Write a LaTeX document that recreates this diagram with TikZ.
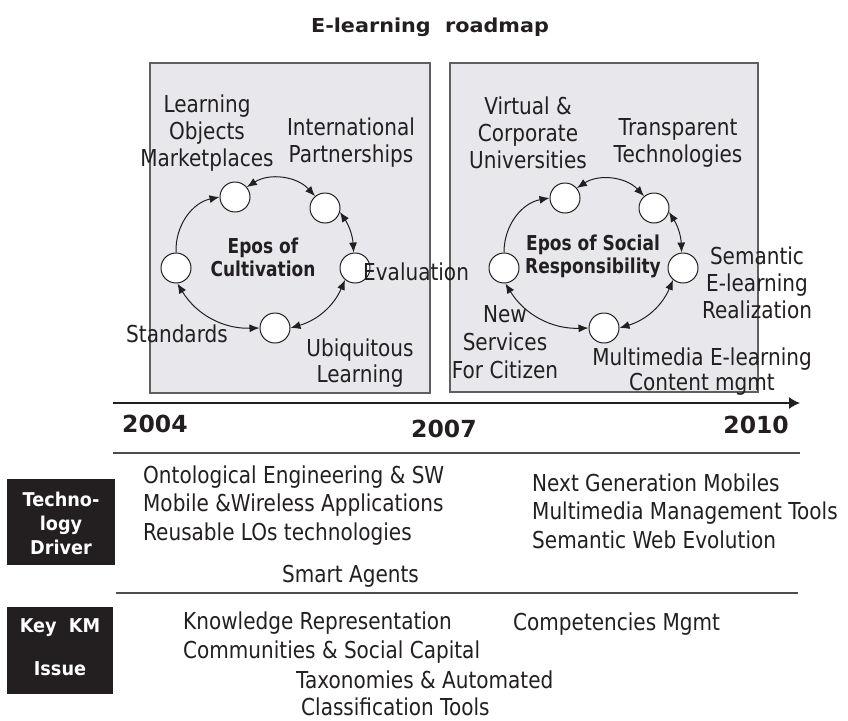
\documentclass[tikz,border=0pt]{standalone}
\usepackage{fontspec}
\usetikzlibrary{arrows.meta}
\newfontfamily\regf[FakeStretch=0.86]{DejaVu Sans}
\newfontfamily\eposf[FakeStretch=0.83]{DejaVu Sans}
\newfontfamily\boxf[FakeStretch=0.93]{DejaVu Sans}
\newfontfamily\titf[FakeStretch=1.08]{DejaVu Sans}
\newfontfamily\yearf{DejaVu Sans}
\definecolor{boxfill}{RGB}{232,232,236}
\definecolor{boxdraw}{RGB}{95,95,95}
\definecolor{ink}{RGB}{35,31,32}
\begin{document}
\begin{tikzpicture}[x=1pt,y=-1pt,
  panel/.style={draw=boxdraw,line width=1.4pt,fill=boxfill},
  station/.style={circle,draw=ink,line width=1pt,fill=white,minimum size=30pt,inner sep=0pt},
  lab/.style={text=ink,inner sep=0pt,align=center,anchor=base,font=\regf\fontsize{23.3}{27}\selectfont},
  labl/.style={text=ink,inner sep=0pt,align=left,anchor=base west,font=\regf\fontsize{23.3}{28.5}\selectfont},
  epos/.style={text=ink,inner sep=0pt,align=center,anchor=base,font=\eposf\bfseries\fontsize{20.5}{22.5}\selectfont},
  year/.style={text=ink,inner sep=0pt,font=\yearf\bfseries\fontsize{23.5}{28}\selectfont},
  blk/.style={fill=ink,text=white,inner sep=0pt,align=center},
  dbl/.style={{Latex[length=10pt,width=8pt]}-{Latex[length=10pt,width=8pt]},line width=1pt,draw=ink},
  sgl/.style={-{Latex[length=10pt,width=8pt]},line width=1pt,draw=ink},
  rule/.style={draw=ink!80,line width=1.2pt}]
\useasboundingbox (0,0) rectangle (848,720);
\fill[white] (0,0) rectangle (848,720);

% title
\node[text=ink,inner sep=0pt,anchor=base,font=\titf\bfseries\fontsize{19.2}{23}\selectfont] (title) at (430,32) {E-learning\ \ roadmap};

% panels
\node[panel,minimum width=280pt,minimum height=330pt,inner sep=0pt] (pl) at (290,228) {};
\node[panel,minimum width=308pt,minimum height=329pt,inner sep=0pt] (pr) at (604,227.5) {};

% left cycle
\node[station] (c1) at (235,197) {};
\node[station] (c2) at (325,208) {};
\node[station] (c3) at (355,268) {};
\node[station] (c4) at (275,328) {};
\node[station] (c5) at (176,268) {};
\draw[sgl] (c5.north) to[bend left=40] (c1.west);
\draw[dbl] (c1.40) to[bend left=40] (c2.130);
\draw[dbl] (c2.-15) to[bend left=15] (c3.95);
\draw[dbl] (c3.230) to[bend left=25] (c4.east);
\draw[dbl] (c4.west) to[bend left=30] (c5.-85);

% right cycle
\node[station] (d1) at (565,198) {};
\node[station] (d2) at (654,208) {};
\node[station] (d3) at (683,268) {};
\node[station] (d4) at (604,328) {};
\node[station] (d5) at (504,268) {};
\draw[sgl] (d5.north) to[bend left=40] (d1.west);
\draw[dbl] (d1.40) to[bend left=40] (d2.130);
\draw[dbl] (d2.-15) to[bend left=15] (d3.95);
\draw[dbl] (d3.230) to[bend left=25] (d4.east);
\draw[dbl] (d4.west) to[bend left=30] (d5.-85);

% left labels (anchor base = last line)
\node[lab] (tLO) at (207,166) {Learning\\Objects\\Marketplaces};
\node[lab] (tIP) at (351,162) {International\\Partnerships};
\node[epos] (tEC) at (263,276) {Epos of\\Cultivation};
\node[lab,anchor=base west] (tEV) at (363,280) {Evaluation};
\node[lab,anchor=base east] (tST) at (228,342) {Standards};
\node[lab,font=\regf\fontsize{23.3}{25.5}\selectfont] (tUL) at (360,382) {Ubiquitous\\Learning};

% right labels
\node[lab] (tVC) at (528,168) {Virtual \&\\Corporate\\Universities};
\node[lab] (tTT) at (678,162) {Transparent\\Technologies};
\node[epos] (tES) at (593,273) {Epos of Social\\Responsibility};
\node[lab] (tSE) at (757,318) {Semantic\\E-learning\\Realization};
\node[lab,font=\regf\fontsize{23.3}{28}\selectfont] (tNS) at (505,378) {New\\Services\\For Citizen};
\node[lab,font=\regf\fontsize{23.3}{25}\selectfont] (tMM) at (702,390) {Multimedia E-learning\\Content mgmt};

% time axis
\coordinate (ax0) at (113,403);
\coordinate (ax1) at (800,403);
\draw[line width=1.5pt,draw=ink,-{Latex[length=11pt,width=12pt]}] (ax0) -- (ax1);
\node[year,anchor=base west] (y04) at (122,432) {2004};
\node[year,anchor=base west] (y07) at (411,437) {2007};
\node[year,anchor=base east] (y10) at (789,433) {2010};

\coordinate (r1a) at (113,453);
\coordinate (r1b) at (800,453);
\draw[rule] (r1a) -- (r1b);
\coordinate (r2a) at (116,593);
\coordinate (r2b) at (798,593);
\draw[rule] (r2a) -- (r2b);

% technology driver
\node[blk,minimum width=108pt,minimum height=86pt] (bTD) at (61,522) {};
\node[text=white,inner sep=0pt,align=center,anchor=base,font=\boxf\bfseries\fontsize{19}{24}\selectfont] (tTD) at (61,554) {Techno-\\logy\\Driver};
\node[labl] (tT1) at (143,540) {Ontological Engineering \& SW\\Mobile \&Wireless Applications\\Reusable LOs technologies};
\node[labl] (tT2) at (532,548) {Next Generation Mobiles\\Multimedia Management Tools\\Semantic Web Evolution};
\node[labl] (tT3) at (282,582) {Smart Agents};

% key KM issue
\node[blk,minimum width=106pt,minimum height=87pt] (bKM) at (60,650) {};
\node[text=white,inner sep=0pt,align=center,anchor=base,font=\boxf\bfseries\fontsize{19}{43}\selectfont] (tKM) at (60,675) {Key\ \ KM\\Issue};
\node[labl] (tK1) at (183,658) {Knowledge Representation\\Communities \& Social Capital};
\node[labl] (tK2) at (513,630) {Competencies Mgmt};
\node[labl,font=\regf\fontsize{23.3}{27}\selectfont] (tK3) at (296,715) {Taxonomies \& Automated\\\hspace{5pt}Classification Tools};
\end{tikzpicture}
\end{document}
